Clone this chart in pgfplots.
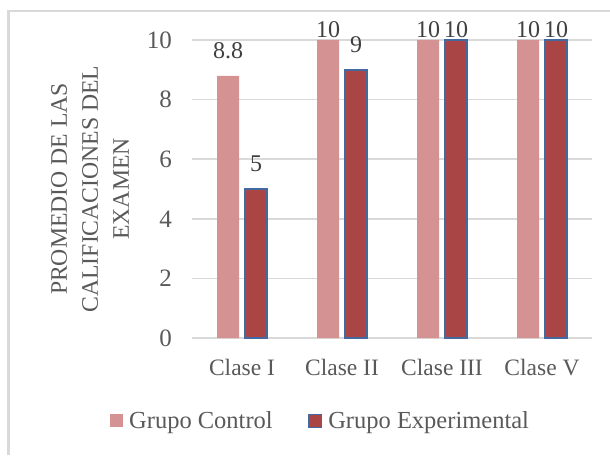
\documentclass[border=0pt]{standalone}
\usepackage{fontspec}
\setmainfont{Liberation Serif}
\usepackage{pgfplots}
\pgfplotsset{compat=1.18}
\definecolor{ctrl}{RGB}{213,146,147}
\definecolor{expf}{RGB}{169,69,68}
\definecolor{expb}{RGB}{68,104,160}
\definecolor{gridc}{RGB}{217,217,217}
\definecolor{txt}{RGB}{89,89,89}
\definecolor{lbl}{RGB}{64,64,64}
\begin{document}
\begin{tikzpicture}
\useasboundingbox (0,0) rectangle (610pt,455pt);
\draw[gridc, line width=2.5pt] (8.7pt,0pt) -- (8.7pt,443.8pt) -- (610pt,443.8pt);
\begin{axis}[
  at={(192pt,117pt)}, anchor=south west,
  width=400pt, height=298pt, scale only axis,
  xmin=-0.5, xmax=3.5, ymin=0, ymax=10,
  ybar, bar width=22pt,
  /pgf/number format/assume math mode=true,
  xtick={0,1,2,3}, xticklabels={Clase I, Clase II, Clase III, Clase V},
  ytick={0,2,4,6,8,10},
  major tick length=0pt,
  axis line style={draw=none},
  ymajorgrids, grid style={gridc, line width=1.5pt},
  clip=false,
  xticklabel style={font=\fontsize{23.5}{28}\selectfont, text=txt, anchor=north, inner sep=0pt, yshift=-21pt},
  yticklabel style={font=\fontsize{25}{28}\selectfont, text=txt, anchor=east, inner sep=0pt, xshift=-20pt},
  ylabel={PROMEDIO DE LAS\\CALIFICACIONES DEL\\EXAMEN},
  ylabel style={at={(axis description cs:-0.255,0.5)}, anchor=center, align=center, font=\fontsize{23.7}{31}\selectfont, text=txt, inner sep=0pt},
  nodes near coords,
  visualization depends on={rawy \as \rawy},
  every node near coord/.append style={font=\fontsize{24}{28}\selectfont, text=lbl, anchor=base, inner sep=0pt, yshift={ifthenelse(\rawy>9.95,2,17)}},
  legend columns=-1,
  legend style={at={(axis description cs:0.319,-0.2785)}, anchor=center, draw=none, fill=none, inner sep=0pt,
    font=\fontsize{24.5}{28}\selectfont, text=txt,
    /tikz/every even column/.append style={column sep=35pt},
    /tikz/every odd column/.append style={column sep=6pt},
    nodes={inner sep=0pt}},
  legend image code/.code={\path[#1] (0pt,-6.5pt) rectangle (13pt,6.5pt);},
]
\addplot[fill=ctrl, draw=none, bar shift=-14pt] coordinates {(0,8.8) (1,10) (2,10) (3,10)};
\addplot[fill=expf, draw=expb, line width=1.5pt, bar shift=14pt] coordinates {(0,5) (1,9) (2,10) (3,10)};
\legend{Grupo Control, Grupo Experimental}
\end{axis}
\end{tikzpicture}
\end{document}
